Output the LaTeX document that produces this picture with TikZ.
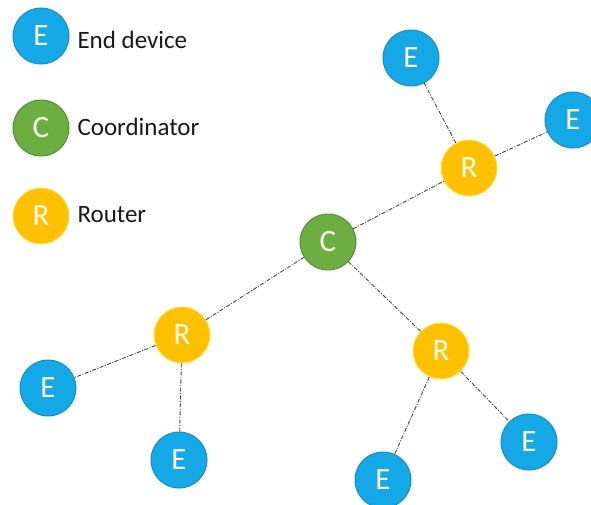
\documentclass[tikz,border=0pt]{standalone}
\usepackage{fontspec}
\setmainfont{Carlito}
\definecolor{endfill}{HTML}{14A8E6}
\definecolor{enddraw}{HTML}{1A8CC4}
\definecolor{coordfill}{HTML}{6CAE42}
\definecolor{coorddraw}{HTML}{558F32}
\definecolor{routfill}{HTML}{FFC000}
\definecolor{routdraw}{HTML}{FFE050}
\definecolor{linkgray}{HTML}{444444}
\begin{document}
\begin{tikzpicture}[x=1pt,y=-1pt,
  dev/.style={circle,minimum size=56pt,inner sep=0pt,line width=1pt,
    text=white!94!yellow,font=\fontsize{31}{34}\selectfont},
  enddev/.style={dev,fill=endfill,draw=enddraw},
  coord/.style={dev,fill=coordfill,draw=coorddraw},
  rout/.style={dev,fill=routfill,draw=routdraw},
  legtext/.style={anchor=west,font=\fontsize{25}{29}\selectfont,text=black!90},
  link/.style={draw=linkgray,line width=0.9pt,
    dash pattern=on 4pt off 1.5pt on 1pt off 1.5pt}]
\useasboundingbox (0,0) rectangle (591,504);
\fill[white] (0,0) rectangle (591,504);

% legend
\node[enddev] (legE) at (41,36) {E};
\node[coord] (legC) at (41,128) {C};
\node[rout] (legR) at (41,216) {R};
\node[legtext] (legEt) at (74,40) {End device};
\node[legtext] (legCt) at (74,127) {Coordinator};
\node[legtext] (legRt) at (74,215) {Router};

% network
\node[coord] (c) at (328,242) {C};
\node[rout] (r1) at (469,168) {R};
\node[rout] (r2) at (182,335) {R};
\node[rout] (r3) at (441,351) {R};
\node[enddev] (e1) at (411,58) {E};
\node[enddev] (e2) at (573,120) {E};
\node[enddev] (e3) at (48,388) {E};
\node[enddev] (e4) at (179,460) {E};
\node[enddev] (e5) at (383,480) {E};
\node[enddev] (e6) at (529,442) {E};

% links between devices
\path[link] (c) -- (r1);
\path[link] (c) -- (r2);
\path[link] (c) -- (r3);
\path[link] (r1) -- (e1);
\path[link] (r1) -- (e2);
\path[link] (r2) -- (e3);
\path[link] (r2) -- (e4);
\path[link] (r3) -- (e5);
\path[link] (r3) -- (e6);
\end{tikzpicture}
\end{document}
